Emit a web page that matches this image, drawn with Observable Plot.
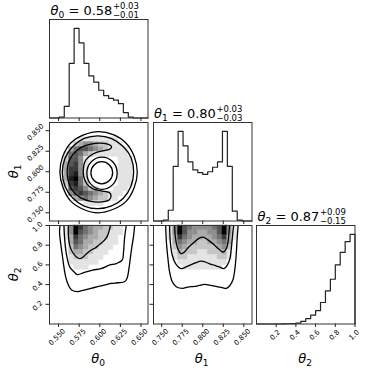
<!DOCTYPE html>
<html>
<head>
<meta charset="utf-8">
<script src="https://cdn.jsdelivr.net/npm/d3@7"></script>
<script src="https://cdn.jsdelivr.net/npm/@observablehq/plot@0.6"></script>
<style>
  html, body { margin: 0; padding: 0; background: #fff; }
  #fig { position: relative; width: 374px; height: 374px; overflow: hidden; background: #fff; }
  #fig svg { position: absolute; }
</style>
</head>
<body>
<div id="fig"></div>
<script>
// ---------------- data ----------------
const names = ["0", "1", "2"];
const medians = ["0.58", "0.80", "0.87"];
const errPlus = ["+0.03", "+0.03", "+0.09"];
const errMinus = ["\u22120.01", "\u22120.03", "\u22120.15"];

const range0 = [0.539, 0.6585];
const range1 = [0.740, 0.860];
const range2 = [0, 1];

const ticks0 = [0.550, 0.575, 0.600, 0.625, 0.650];
const tickLabels0 = ["0.550", "0.575", "0.600", "0.625", "0.650"];
const ticks1 = [0.750, 0.775, 0.800, 0.825, 0.850];
const tickLabels1 = ["0.750", "0.775", "0.800", "0.825", "0.850"];
const ticks2 = [0.2, 0.4, 0.6, 0.8, 1.0];
const tickLabels2 = ["0.2", "0.4", "0.6", "0.8", "1.0"];

// 1D histograms (20 bins over each range)
const hist0 = [0, 0, 1, 13, 61, 100, 84, 61, 47, 40, 31, 25, 22, 20, 16, 6, 1, 0, 0, 0];
const hist1 = [0, 0, 1, 12, 61, 100, 84, 66, 57, 54, 52, 55, 60, 66, 100, 61, 11, 1, 0, 0];
const hist2 = [0, 0, 0, 0, 0, 0.2, 0.3, 0.5, 1, 3, 6, 10, 15, 24, 37, 50, 66, 80, 92, 100];

// 2D density (20x20, rows top->bottom, 0 = white ... 9 = black)
const dens01 = [
  "00000000000000000000",
  "00000000000000000000",
  "00000000000000000000",
  "00000011111111000000",
  "00000234432211100000",
  "00003566543211110000",
  "00015653211111110000",
  "00026641000000111000",
  "00036741000000111000",
  "00037741000000111000",
  "00037841000000111000",
  "00038951000000111000",
  "00027852000000111000",
  "00016764210001110000",
  "00004676543211100000",
  "00000345432211000000",
  "00000001111000000000",
  "00000000000000000000",
  "00000000000000000000",
  "00000000000000000000"
];
const dens02 = [
  "00014975433221100000",
  "00014965432211100000",
  "00013754332211000000",
  "00003653322111000000",
  "00002543221110000000",
  "00002332211100000000",
  "00001222111000000000",
  "00001111110000000000",
  "00000111000000000000",
  "00000000000000000000",
  "00000000000000000000",
  "00000000000000000000",
  "00000000000000000000",
  "00000000000000000000",
  "00000000000000000000",
  "00000000000000000000",
  "00000000000000000000",
  "00000000000000000000",
  "00000000000000000000",
  "00000000000000000000"
];
const dens12 = [
  "00014965444456941000",
  "00014964433446941000",
  "00013754333345731000",
  "00003543322334530000",
  "00002432222223420000",
  "00001322211222310000",
  "00001221111112210000",
  "00000111111111100000",
  "00000011111111000000",
  "00000000000000000000",
  "00000000000000000000",
  "00000000000000000000",
  "00000000000000000000",
  "00000000000000000000",
  "00000000000000000000",
  "00000000000000000000",
  "00000000000000000000",
  "00000000000000000000",
  "00000000000000000000",
  "00000000000000000000"
];

// contour lines (data units)
const cont01 = [
  [[0.6455,0.7990],[0.6418,0.8186],[0.6320,0.8348],[0.6163,0.8452],[0.5990,0.8490],[0.5805,0.8449],[0.5648,0.8350],[0.5550,0.8184],[0.5516,0.7996],[0.5554,0.7808],[0.5645,0.7645],[0.5805,0.7540],[0.5980,0.7500],[0.6165,0.7543],[0.6322,0.7642],[0.6418,0.7808]],
  [[0.6411,0.7994],[0.6381,0.8168],[0.6284,0.8308],[0.6144,0.8404],[0.5978,0.8438],[0.5812,0.8406],[0.5672,0.8308],[0.5578,0.8164],[0.5545,0.7994],[0.5578,0.7824],[0.5672,0.7680],[0.5810,0.7582],[0.5978,0.7550],[0.6144,0.7584],[0.6286,0.7678],[0.6378,0.7824]],
  [[0.6113,0.8331],[0.6015,0.8349],[0.5892,0.8337],[0.5770,0.8294],[0.5672,0.8208],[0.5616,0.8098],[0.5604,0.7988],[0.5623,0.7865],[0.5672,0.7767],[0.5770,0.7681],[0.5892,0.7638],[0.6015,0.7632],[0.6113,0.7657],[0.6137,0.7706],[0.6113,0.7749],[0.6015,0.7767],[0.5917,0.7792],[0.5843,0.7853],[0.5806,0.7939],[0.5800,0.8025],[0.5819,0.8123],[0.5868,0.8184],[0.5953,0.8233],[0.6051,0.8257],[0.6125,0.8276],[0.6143,0.8306]],
  [[0.6211,0.7982],[0.6157,0.8121],[0.6027,0.8178],[0.5897,0.8121],[0.5843,0.7982],[0.5897,0.7843],[0.6027,0.7786],[0.6157,0.7843]],
  [[0.6156,0.7988],[0.6117,0.8083],[0.6024,0.8123],[0.5931,0.8083],[0.5892,0.7988],[0.5931,0.7893],[0.6024,0.7853],[0.6117,0.7893]]
];
const cont02 = [
  [[0.5518,1.0],[0.5512,0.9325],[0.5545,0.7007],[0.5586,0.4791],[0.5619,0.3954],[0.5659,0.3451],[0.5729,0.3279],[0.5810,0.3451],[0.5892,0.3612],[0.5974,0.3783],[0.6055,0.3954],[0.6137,0.4116],[0.6219,0.4186],[0.6300,0.4287],[0.6330,0.4619],[0.6354,0.5627],[0.6370,0.6635],[0.6386,0.7642],[0.6411,0.8992],[0.6423,1.0]],
  [[0.5565,1.0],[0.5577,0.8317],[0.5598,0.6977],[0.5635,0.5798],[0.5688,0.5294],[0.5729,0.5022],[0.5810,0.5224],[0.5913,0.5466],[0.6015,0.5627],[0.6117,0.5970],[0.6199,0.6131],[0.6272,0.6473],[0.6288,0.7310],[0.6300,0.8650],[0.6321,1.0]],
  [[0.5619,1.0],[0.5619,0.8992],[0.5635,0.7985],[0.5668,0.7310],[0.5717,0.6806],[0.5757,0.6635],[0.5798,0.6806],[0.5839,0.7138],[0.5892,0.7481],[0.5945,0.7713],[0.5994,0.8045],[0.6043,0.8388],[0.6085,0.8821],[0.6109,0.9325],[0.6129,1.0]]
];
const cont12 = [
  [[0.7548,1.0],[0.7557,0.8317],[0.7576,0.6635],[0.7596,0.5294],[0.7629,0.4287],[0.7677,0.3783],[0.7757,0.3612],[0.7817,0.3753],[0.7898,0.3813],[0.7958,0.3914],[0.8018,0.4015],[0.8078,0.3954],[0.8159,0.3813],[0.8239,0.3682],[0.8287,0.3612],[0.8328,0.3884],[0.8367,0.4458],[0.8392,0.5627],[0.8407,0.6977],[0.8419,0.8650],[0.8431,1.0]],
  [[0.7596,1.0],[0.7605,0.8317],[0.7629,0.6977],[0.7669,0.6131],[0.7737,0.5627],[0.7798,0.5798],[0.7858,0.6030],[0.7918,0.6232],[0.7978,0.6373],[0.8018,0.6332],[0.8078,0.6131],[0.8139,0.5970],[0.8199,0.5798],[0.8259,0.5627],[0.8299,0.5970],[0.8331,0.6635],[0.8352,0.7985],[0.8367,0.9325],[0.8376,1.0]],
  [[0.7657,1.0],[0.7669,0.8650],[0.7696,0.7642],[0.7737,0.7138],[0.7777,0.7310],[0.7829,0.7814],[0.7898,0.8317],[0.7958,0.8720],[0.8006,0.8821],[0.8070,0.8489],[0.8139,0.8045],[0.8199,0.7582],[0.8247,0.7310],[0.8287,0.7642],[0.8311,0.8489],[0.8319,0.9325],[0.8328,1.0]]
];

// ---------------- helpers ----------------
const fig = document.getElementById("fig");
const PL = [49, 152.5, 256], PT = [19, 122, 225], PW = 98.5, PH = 98.5;
const ML = 48, MR = 6, MT = 6, MB = 42;

function stepPoints(counts, [lo, hi]) {
  const n = counts.length, bw = (hi - lo) / n;
  const pts = [{x: lo, y: 0}];
  counts.forEach((c, i) => pts.push({x: lo + i * bw, y: c}));
  pts.push({x: hi, y: counts[n - 1]}, {x: hi, y: 0});
  return pts;
}
function densityCells(rows, xr, yr) {
  const nr = rows.length, nc = rows[0].length;
  const bw = (xr[1] - xr[0]) / nc, bh = (yr[1] - yr[0]) / nr;
  const out = [];
  rows.forEach((row, r) => [...row].forEach((ch, c) => {
    const v = +ch;
    if (v > 0) out.push({x1: xr[0] + c * bw, x2: xr[0] + (c + 1) * bw, y1: yr[1] - (r + 1) * bh, y2: yr[1] - r * bh, v});
  }));
  return out;
}
function contourRows(list) {
  return list.flatMap((pts, id) => pts.map(([x, y]) => ({x, y, id})));
}
function xLabels(ticks, labels, dx, dy) {
  return Plot.text(ticks, {x: d => d, text: (d, i) => labels[i], frameAnchor: "bottom", dx, dy,
    rotate: -45, textAnchor: "middle", lineAnchor: "middle", fontSize: 7, fill: "#000"});
}
function yLabels(ticks, labels, dx, dy) {
  return Plot.text(ticks, {y: d => d, text: (d, i) => labels[i], frameAnchor: "left", dx, dy,
    rotate: -45, textAnchor: "middle", lineAnchor: "middle", fontSize: 7, fill: "#000"});
}
function panel(col, row, o) {
  const svg = Plot.plot({
    width: PW + ML + MR, height: PH + MT + MB,
    marginLeft: ML, marginRight: MR, marginTop: MT, marginBottom: MB,
    style: {background: "transparent", overflow: "visible", fontFamily: "DejaVu Sans", fontSize: "7px", color: "#222"},
    x: {domain: o.xdom, ticks: o.xticks, tickSize: 3.5, tickFormat: () => "", label: null},
    y: o.yticks ? {domain: o.ydom, ticks: o.yticks, tickSize: 3.5, tickFormat: () => "", label: null}
                : {domain: o.ydom, axis: null},
    color: {type: "linear", domain: [0, 9], range: ["#ffffff", "#000000"]},
    marks: [...o.marks, Plot.frame({stroke: "#333", strokeWidth: 1})]
  });
  svg.style.left = (PL[col] - ML) + "px";
  svg.style.top = (PT[row] - MT) + "px";
  fig.appendChild(svg);
}
function histPanel(i, counts, dom, ticks, labels, lab) {
  const marks = [Plot.line(stepPoints(counts, dom), {x: "x", y: "y", curve: "step-after", stroke: "#222", strokeWidth: 1.2})];
  if (lab) marks.push(xLabels(ticks, labels, lab[0], lab[1]));
  panel(i, i, {xdom: dom, xticks: ticks, ydom: [0, 1.1 * d3.max(counts)], marks});
}
function densPanel(col, row, dens, conts, closed, xdom, ydom, xt, yt, xl, yl) {
  const marks = [
    Plot.rect(densityCells(dens, xdom, ydom), {x1: "x1", x2: "x2", y1: "y1", y2: "y2", fill: "v", stroke: "v", strokeWidth: 0.4}),
    Plot.line(contourRows(conts), {x: "x", y: "y", z: "id", curve: closed ? "catmull-rom-closed" : "catmull-rom",
      stroke: "#000", strokeWidth: 1.3, clip: true})
  ];
  if (xl) marks.push(xLabels(xt, xl[0], xl[1], xl[2]));
  if (yl) marks.push(yLabels(yt, yl[0], yl[1], yl[2]));
  panel(col, row, {xdom, ydom, xticks: xt, yticks: yt, marks});
}

// ---------------- panels ----------------
histPanel(0, hist0, range0, ticks0, tickLabels0, null);
histPanel(1, hist1, range1, ticks1, tickLabels1, null);
histPanel(2, hist2, range2, ticks2, tickLabels2, [-1, 11]);

densPanel(0, 1, dens01, cont01, true, range0, range1, ticks0, ticks1, null, [tickLabels1, -14, 1.5]);
densPanel(0, 2, dens02, cont02, false, range0, range2, ticks0, ticks2, [tickLabels0, -1.5, 13], [tickLabels2, -12, 1.5]);
densPanel(1, 2, dens12, cont12, false, range1, range2, ticks1, ticks2, [tickLabels1, -1.5, 13], null);

// ---------------- titles and axis labels ----------------
const ov = d3.select(fig).append("svg").attr("width", 374).attr("height", 374)
  .style("left", "0px").style("top", "0px").style("overflow", "visible")
  .attr("font-family", "DejaVu Sans, sans-serif").attr("fill", "#000");

function thetaText(sel, i, size) {
  sel.append("tspan").attr("font-style", "italic").text("\u03b8");
  sel.append("tspan").attr("font-size", size * 0.7).attr("dy", size * 0.22).text(names[i]);
}
for (let i = 0; i < 3; i++) {
  const x = PL[i] + 1.5, top = PT[i];
  const t = ov.append("text").attr("x", x).attr("y", top - 3.7).attr("font-size", 13);
  thetaText(t, i, 13);
  t.append("tspan").attr("dy", -13 * 0.22).text(" = " + medians[i]);
  const w = t.node().getComputedTextLength();
  ov.append("text").attr("x", x + w + 0.5).attr("y", top - 10.3).attr("font-size", 8.5).text(errPlus[i]);
  ov.append("text").attr("x", x + w + 0.5).attr("y", top - 1.5).attr("font-size", 8.5).text(errMinus[i]);
  const xl = ov.append("text").attr("x", PL[i] + PW / 2).attr("y", 363).attr("font-size", 13).attr("text-anchor", "middle");
  thetaText(xl, i, 13);
}
for (let i = 1; i < 3; i++) {
  const yl = ov.append("text").attr("transform", `translate(18,${PT[i] + PH / 2}) rotate(-90)`)
    .attr("font-size", 13).attr("text-anchor", "middle");
  thetaText(yl, i, 13);
}
</script>
</body>
</html>
